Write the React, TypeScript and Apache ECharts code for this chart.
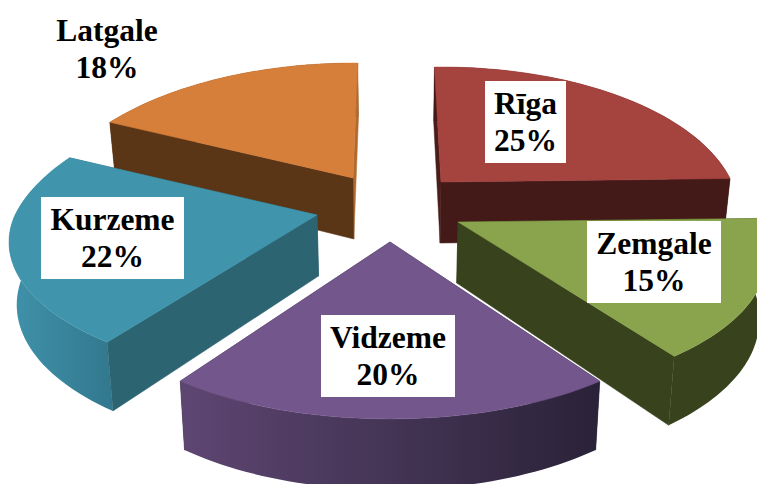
import React, { useEffect, useRef } from "react";
import * as echarts from "echarts";

const regions = ["Rīga", "Zemgale", "Vidzeme", "Kurzeme", "Latgale"];
const shares = [25, 15, 20, 22, 18];

// layout: painter order, slice tips, rim shaping, label boxes
const drawOrder = [4, 0, 3, 1, 2];
const tips = [[441, 182], [458, 222], [390, 242], [317, 215], [353, 178]];
const baseScale = [1, 1.025, 1, 1.0, 1.02];
const bulge = [0, 0.005, -0.02, 0, 0];
const endBulge = [-0.01, 0, 0, 0.05, -0.02];
const boxes = [
  [485, 81, 81, 82],
  [587, 221, 134, 82],
  [321, 315, 134, 82],
  [41, 197, 143, 82],
  [40, 8, 134, 82],
];
const topColors = ["#a5433f", "#89a44c", "#72568c", "#4095ad", "#d67f3a"];
const sideColors = ["#441a18", "#38421c", "#33263f", "#2c6472", "#5a3516"];
const edgeColors = ["#4a1c1a", "#38421c", "#33263f", "#2c6472", "#b06a30"];
const arcGradients = [
  ["#441a18", "#441a18"],
  ["#38421c", "#38421c"],
  ["#5e4672", "#2a2238"],
  ["#3f92aa", "#32788e"],
  ["#5a3516", "#5a3516"],
];

const R = 292;
const TILT = 0.482;
const PERSP = 0.00077;
const DEPTH = 61;
const VX = 395;
const SHRINK = 0.02;
const FRONT_Y = 242;
const FRONT_SQUASH = 0.0032;

function top(tip: number[], X: number, Y: number) {
  const s = 1 / (1 - PERSP * Y);
  const back = s < 1 ? (tip[0] - 390) * (s - 1) * 0.7 : 0;
  const roll = X > 0 ? 0.012 * X * Math.max(0, 1 - Math.max(Y, 0) / 100) : 0;
  const squash = Y > 0 ? 1 - (FRONT_Y - tip[1]) * FRONT_SQUASH : 1;
  return { x: tip[0] + X * s + back, y: tip[1] + TILT * Y * s * squash - roll, s };
}
function pt(tip: number[], X: number, Y: number): number[] {
  const p = top(tip, X, Y);
  return [p.x, p.y];
}
function low(tip: number[], X: number, Y: number): number[] {
  const p = top(tip, X, Y);
  return [p.x - (p.x - VX) * SHRINK, p.y + DEPTH * Math.pow(p.s, 0.6)];
}

const total = shares.reduce((a, b) => a + b, 0);
const starts: number[] = [];
shares.reduce((acc, v, i) => {
  starts[i] = acc;
  return acc + v;
}, 0);

function renderItem(params: any) {
  const i = drawOrder[params.dataIndex];
  const tip = tips[i];
  const a0 = (starts[i] / total) * 2 * Math.PI;
  const a1 = ((starts[i] + shares[i]) / total) * 2 * Math.PI;
  const steps = 48;
  const rim: number[][] = [];
  for (let k = 0; k <= steps; k++) {
    const t = k / steps;
    const a = a0 + (a1 - a0) * t;
    const r = R * (baseScale[i] + bulge[i] * Math.sin(Math.PI * t) + endBulge[i] * t);
    rim.push([r * Math.sin(a), -r * Math.cos(a)]);
  }
  const first = rim[0];
  const last = rim[rim.length - 1];
  const poly = (points: number[][], fill: any) => ({
    type: "polygon",
    shape: { points },
    style: { fill, stroke: typeof fill === "string" ? fill : "none", lineWidth: typeof fill === "string" ? 0.5 : 0 },
  });
  const wallColor = (p: number[]) => (Math.abs(p[0]) < 10 ? edgeColors[i] : sideColors[i]);
  const startWall = poly(
    [pt(tip, 0, 0), pt(tip, first[0], first[1]), low(tip, first[0], first[1]), low(tip, 0, 0)],
    wallColor(first)
  );
  const endWall = poly(
    [pt(tip, 0, 0), pt(tip, last[0], last[1]), low(tip, last[0], last[1]), low(tip, 0, 0)],
    wallColor(last)
  );
  const arcWall = poly(
    [...rim.map((p) => pt(tip, p[0], p[1])), ...rim.slice().reverse().map((p) => low(tip, p[0], p[1]))],
    new echarts.graphic.LinearGradient(0, 0, 1, 0, [
      { offset: 0, color: arcGradients[i][0] },
      { offset: 1, color: arcGradients[i][1] },
    ])
  );
  const walls = [
    { el: startWall, y: first[1] / 2 },
    { el: endWall, y: last[1] / 2 },
    { el: arcWall, y: (first[1] + last[1]) / 2 },
  ]
    .sort((p, q) => p.y - q.y)
    .map((w) => w.el);
  const face = poly([pt(tip, 0, 0), ...rim.map((p) => pt(tip, p[0], p[1]))], topColors[i]);
  const b = boxes[i];
  return {
    type: "group",
    children: [
      ...walls,
      face,
      { type: "rect", z2: 50, shape: { x: b[0], y: b[1], width: b[2], height: b[3] }, style: { fill: "#ffffff" } },
      {
        type: "text",
        z2: 51,
        x: b[0] + b[2] / 2,
        y: b[1] + b[3] / 2,
        style: {
          text: `${regions[i]}\n${shares[i]}%`,
          fontFamily: "Liberation Serif",
          fontWeight: "bold",
          fontSize: 31.5,
          fill: "#000000",
          align: "center",
          verticalAlign: "middle",
          lineHeight: 37,
        },
      },
    ],
  };
}

export default function App() {
  const ref = useRef<HTMLDivElement>(null);
  useEffect(() => {
    document.body.style.margin = "0";
    const chart = echarts.init(ref.current!, undefined, { renderer: "svg" });
    chart.setOption({
      animation: false,
      backgroundColor: "#ffffff",
      series: [
        {
          type: "custom",
          coordinateSystem: "none",
          silent: true,
          clip: false,
          renderItem,
          data: drawOrder.map((i) => ({ name: regions[i], value: shares[i] })),
        },
      ],
    });
    return () => chart.dispose();
  }, []);
  return <div ref={ref} style={{ width: 757, height: 484, overflow: "hidden" }} />;
}
